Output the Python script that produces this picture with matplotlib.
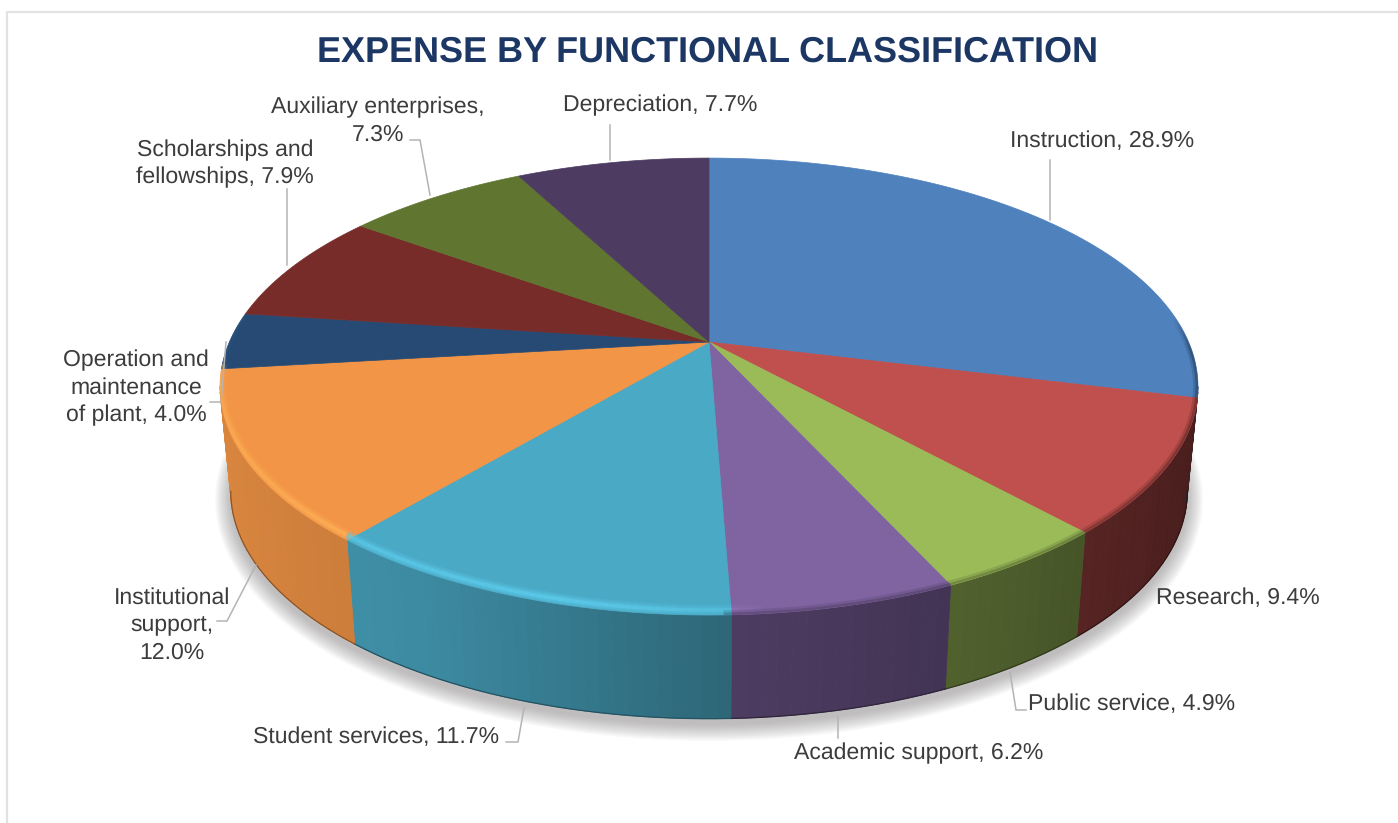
import numpy as np
import matplotlib
matplotlib.use("Agg")
import matplotlib.pyplot as plt
from matplotlib.collections import LineCollection, PolyCollection
from matplotlib.colors import to_rgb

plt.rcParams["text.hinting"] = "none"
plt.rcParams["text.hinting_factor"] = 1

categories = ["Instruction", "Research", "Public service", "Academic support",
              "Student services", "Institutional support", "Operation and maintenance of plant",
              "Scholarships and fellowships", "Auxiliary enterprises", "Depreciation"]
values = [28.9, 9.4, 4.9, 6.2, 11.7, 12.0, 4.0, 7.9, 7.3, 7.7]
colors = ["#4f81bd", "#c0504d", "#9bbb59", "#8064a2", "#4aa9c5",
          "#f39546", "#264a73", "#772c2a", "#5f7530", "#4d3b62"]

# label text, anchor in pixels
labels = [
    ("Instruction, 28.9%", 1102, 141),
    ("Research, 9.4%", 1238, 598.5),
    ("Public service, 4.9%", 1132, 704.5),
    ("Academic support, 6.2%", 918.5, 753.5),
    ("Student services, 11.7%", 376, 737.5),
    ("Institutional\nsupport,\n12.0%", 172, 625),
    ("Operation and\nmaintenance\nof plant, 4.0%", 136, 388),
    ("Scholarships and\nfellowships, 7.9%", 225, 164),
    ("Auxiliary enterprises,\n7.3%", 378, 121),
    ("Depreciation, 7.7%", 660, 105.5),
]
leaders = [
    [(1050, 160), (1050, 220)],
    [(1010, 672), (1016, 710), (1026, 710)],
    [(838, 717), (838, 738)],
    [(524, 708), (518, 742), (506, 742)],
    [(256, 565), (227, 621), (217, 621)],
    [(226, 342), (221, 402), (210, 402)],
    [(287, 189), (287, 265)],
    [(410, 140), (420, 140), (430, 195)],
    [(610, 125), (610, 160)],
]

# perspective of the disc, in pixels
cx, cy = 709, 342
A, B, k = 479.6, 219.8, 0.195
drop, shrink_x, shrink_y = 105, 0.978, 0.995


def top_xy(theta):
    X, Y = np.sin(theta), np.cos(theta)
    w = 1 + k * Y
    return cx + A * X / w, cy - B * Y / w


def bottom_xy(theta):
    x, y = top_xy(theta)
    return cx + shrink_x * (x - cx), cy + drop + shrink_y * (y - cy)


def side_factor(theta):
    return np.interp(np.sin(theta), [-1, -0.75, -0.5, 0.05, 0.5, 0.78, 1],
                     [0.9, 0.86, 0.82, 0.6, 0.5, 0.42, 0.36])


def rim_light(theta):
    h = np.interp(np.sin(theta), [-1, -0.75, -0.25, 0.03, 0.1, 1],
                  [0.2, 0.26, 0.4, 0.2, 0, 0])
    return np.where(np.cos(theta) < 0.1, h, 0)


def rim_dark(theta):
    # fades in from just above the right end of the disc
    ramp = np.clip((0.12 - np.cos(theta)) / 0.15, 0, 1)
    return np.where(np.sin(theta) > 0.03, ramp, 0)


def segments(x, y):
    return np.stack([np.c_[x[:-1], y[:-1]], np.c_[x[1:], y[1:]]], axis=1)


fig = plt.figure(figsize=(13.98, 8.23), dpi=100)
ax = fig.add_axes([0, 0, 1, 1])
ax.set_xlim(0, 1398)
ax.set_ylim(823, 0)
ax.axis("off")

# panel border
ax.plot([6.5, 6.5, 1398], [823, 12, 12], color="#e2e2e2", lw=1.6, zorder=1)

shares = np.array(values) / sum(values)
edges = 2 * np.pi * np.concatenate([[0], np.cumsum(shares)])

# the wall is only seen between the two widest points of the disc
wall_from = np.arccos(-k)
wall_to = 2 * np.pi - wall_from

# soft shadow under the disc
ring = np.linspace(0, 2 * np.pi, 360)
bx, by = bottom_xy(ring)
for grow in np.linspace(1.06, 1.0, 16):
    sx = cx + (bx - cx) * (1 + (grow - 1) * 0.55)
    sy = cy + drop + 6 + (by - cy - drop) * grow
    ax.fill(sx, sy, color="#6e6a6a", alpha=0.03, lw=0, zorder=2)

# sides
for i, col in enumerate(colors):
    base = np.array(to_rgb(col))
    lo, hi = max(edges[i], wall_from), min(edges[i + 1], wall_to)
    if hi <= lo:
        continue
    th = np.linspace(lo, hi, max(3, int((hi - lo) * 42)))
    tx, ty = top_xy(th)
    ux, uy = bottom_xy(th)
    quads, fc = [], []
    for j in range(len(th) - 1):
        quads.append([(tx[j], ty[j]), (tx[j + 1], ty[j + 1]), (ux[j + 1], uy[j + 1]), (ux[j], uy[j])])
        fc.append(base * side_factor((th[j] + th[j + 1]) / 2))
    ax.add_collection(PolyCollection(quads, facecolors=fc, edgecolors=fc, linewidths=0.6, zorder=3))
    ax.plot(ux, uy, color=base * side_factor(th.mean()) * 0.65, lw=0.9, zorder=3.5)

# top face
rx, ry = top_xy(ring)
disc = ax.fill(rx, ry, color="none", lw=0)[0]
for i, col in enumerate(colors):
    base = np.array(to_rgb(col))
    th = np.linspace(edges[i], edges[i + 1], max(6, int(shares[i] * 500)))
    tx, ty = top_xy(th)
    ax.fill(np.r_[cx, tx], np.r_[cy, ty], facecolor=base, edgecolor=base, lw=0.5, zorder=4)

    # bevel: bright band on the front left, soft dark band on the right
    mid = (th[:-1] + th[1:]) / 2
    for lift, width, fade in [(5, 8, 0.3), (5, 5, 0.45), (5, 2.5, 0.8)]:
        rgba = np.ones((len(mid), 4))
        rgba[:, :3] = np.clip(base * 1.16 + 0.03, 0, 1)
        rgba[:, 3] = np.clip(rim_light(mid) * 2.2 * fade, 0, 1)
        lc = LineCollection(segments(tx, ty - lift), colors=rgba, linewidths=width, zorder=5)
        ax.add_collection(lc)
        lc.set_clip_path(disc)
    for width, strength in [(7, 0.22), (3.5, 0.4)]:
        rgba = np.zeros((len(mid), 4))
        rgba[:, :3] = base * side_factor(mid)[:, None]
        rgba[:, 3] = rim_dark(mid) * strength
        lc = LineCollection(segments(tx, ty), colors=rgba, linewidths=width, zorder=5)
        ax.add_collection(lc)
        lc.set_clip_path(disc)

# leader lines
for pts in leaders:
    ax.plot(*zip(*pts), color="#b4b4b4", lw=1.1, solid_joinstyle="miter", zorder=6)

for text, x, y in labels:
    ax.text(x, y, text, ha="center", va="center", fontsize=16.6, family="Liberation Sans",
            color="#3c3c3c", linespacing=1.36, zorder=7)

ax.text(707.5, 52.5, "EXPENSE BY FUNCTIONAL CLASSIFICATION", ha="center", va="center",
        fontsize=25.85, fontweight="bold", family="Liberation Sans", color="#1c3764", zorder=7)

fig.savefig("out.png", dpi=100)
